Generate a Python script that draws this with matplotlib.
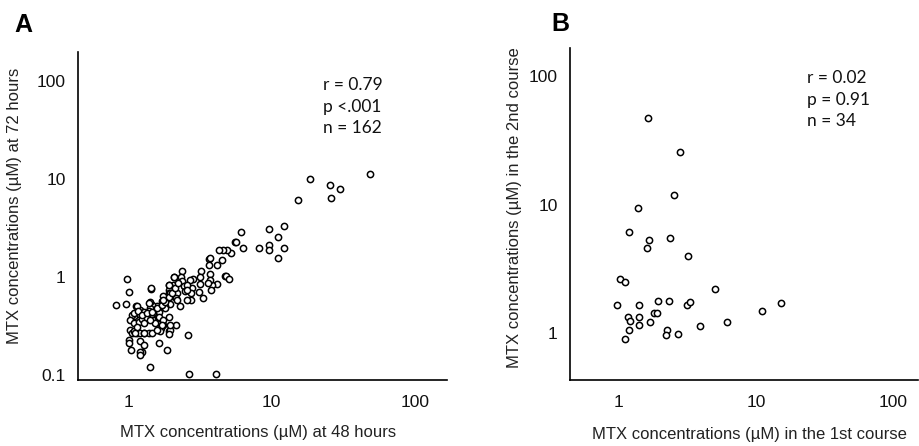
import matplotlib
matplotlib.use("Agg")
import matplotlib.pyplot as plt
from matplotlib.ticker import FixedLocator, FixedFormatter, NullLocator

# ---------------------------------------------------------------
# Panel A: MTX at 48 h vs 72 h (uM)
# ---------------------------------------------------------------
a_48h = [48, 18.5, 25.3, 29.7, 26, 15.2, 12.2, 9.5, 11.1, 6.13, 8.1, 9.5, 9.55, 12.2, 11.1,
         6.3, 5.57, 5.65, 5.22, 4.9, 4.6, 4.31, 4.5, 4.17, 3.65, 3.7, 3.66, 4.7, 4.8, 5.05,
         4.13, 3.83, 3.72, 3.7, 3.6, 3.76, 3.23, 3.14, 3.15, 3.32, 3.13, 2.82, 2.7, 2.78, 2.75,
         2.75, 2.37, 2.33, 2.37, 2.46, 2.5, 2.56, 2.58, 2.07, 2.05,
         1.91, 1.91, 1.91, 1.96, 2.01, 2.18, 2.15, 2.18, 1.86, 1.84, 1.96, 1.76, 1.72, 1.81,
         1.80, 1.67, 1.58, 1.54, 1.63, 1.50, 1.46, 1.42, 1.39, 1.35, 1.37,
         2.15, 1.93, 1.95, 1.76, 1.68, 1.66, 1.91, 2.59, 1.86, 1.63, 1.42, 2.63, 4.1, 1.43,
         1.45, 0.98, 1.02, 0.82, 0.96, 1.42, 1.40,
         1.14, 1.21, 1.28, 1.16, 1.09, 1.06, 1.03, 1.09, 1.18, 1.25, 1.35, 1.46, 1.50,
         1.03, 1.06, 1.09, 1.15, 1.21, 1.28, 1.39, 1.46,
         1.02, 1.02, 1.04, 1.21, 1.28, 1.25, 1.21, 1.21, 1.58, 1.63,
         1.15, 1.09, 1.17, 1.25, 1.35, 1.46, 1.58, 1.72, 1.81, 1.91, 2.01, 2.13, 2.24, 2.07,
         1.91, 1.76, 1.63, 1.76, 1.91, 1.96, 1.72, 1.54, 1.42, 1.28, 1.15, 1.12, 1.28, 1.58,
         2.30, 2.56]
a_72h = [11.2, 10.0, 8.55, 7.85, 6.3, 6.1, 3.31, 3.11, 2.54, 2.9, 1.96, 2.1, 1.87, 1.96, 1.54,
         1.96, 2.26, 2.28, 1.77, 1.89, 1.88, 1.86, 1.49, 1.32, 1.53, 1.55, 1.31, 1.02, 1.01, 0.96,
         0.85, 0.82, 1.07, 0.93, 0.86, 0.74, 1.14, 1.0, 0.85, 0.61, 0.70, 0.95, 0.93, 0.77, 0.68,
         0.58, 1.15, 1.0, 0.9, 0.8, 0.71, 0.83, 0.74, 1.0, 0.83,
         0.83, 0.74, 0.68, 0.68, 0.64, 0.68, 0.61, 0.58, 0.58, 0.55, 0.53, 0.64, 0.57, 0.50,
         0.48, 0.50, 0.50, 0.46, 0.44, 0.43, 0.52, 0.48, 0.45, 0.42, 0.39,
         0.32, 0.28, 0.29, 0.32, 0.30, 0.28, 0.26, 0.256, 0.18, 0.21, 0.12, 0.103, 0.103, 0.76,
         0.77, 0.96, 0.70, 0.52, 0.53, 0.55, 0.54,
         0.50, 0.46, 0.44, 0.42, 0.40, 0.41, 0.36, 0.34, 0.35, 0.37, 0.38, 0.38, 0.36,
         0.29, 0.27, 0.28, 0.27, 0.27, 0.27, 0.27, 0.27,
         0.23, 0.21, 0.18, 0.22, 0.20, 0.17, 0.17, 0.16, 0.35, 0.38,
         0.50, 0.43, 0.45, 0.41, 0.43, 0.44, 0.48, 0.52, 0.56, 0.63, 0.68, 0.77, 0.86, 1.0,
         0.83, 0.58, 0.39, 0.36, 0.39, 0.32, 0.32, 0.34, 0.36, 0.34, 0.31, 0.27, 0.27, 0.29,
         0.50, 0.58]

# ---------------------------------------------------------------
# Panel B: MTX in the 1st vs 2nd course (uM)
# ---------------------------------------------------------------
b_1st = [1.62, 2.77, 2.52, 1.38, 1.18, 1.66, 1.61, 2.35, 3.2, 1.01, 1.11, 4.99, 0.97, 1.40,
         1.93, 2.30, 3.13, 3.31, 6.13, 3.93, 1.16, 1.21, 1.40, 1.40, 1.68, 1.80, 1.90, 1.18,
         1.10, 2.24, 2.19, 2.69, 15.1, 11.1]
b_2nd = [47.5, 25.7, 11.8, 9.4, 6.1, 5.26, 4.6, 5.5, 4.0, 2.65, 2.49, 2.22, 1.66, 1.66,
         1.77, 1.77, 1.65, 1.74, 1.22, 1.13, 1.34, 1.25, 1.34, 1.15, 1.22, 1.43, 1.43, 1.06,
         0.89, 1.06, 0.97, 0.99, 1.72, 1.49]

stats_a = ["r = 0.79", "p <.001", "n = 162"]
stats_b = ["r = 0.02", "p = 0.91", "n = 34"]

fig = plt.figure(figsize=(9.2, 4.46), dpi=100)
fig.patch.set_facecolor("white")

ax_a = fig.add_axes([0.0848, 0.148, 0.401, 0.735])
ax_b = fig.add_axes([0.6196, 0.148, 0.378, 0.744])


def style_axis(ax, xlim, ylim, yticks, ylabels, xlabel, ylabel):
    ax.set_xscale("log")
    ax.set_yscale("log")
    ax.set_xlim(*xlim)
    ax.set_ylim(*ylim)
    ax.xaxis.set_major_locator(FixedLocator([1, 10, 100]))
    ax.xaxis.set_major_formatter(FixedFormatter(["1", "10", "100"]))
    ax.xaxis.set_minor_locator(NullLocator())
    ax.yaxis.set_major_locator(FixedLocator(yticks))
    ax.yaxis.set_major_formatter(FixedFormatter(ylabels))
    ax.yaxis.set_minor_locator(NullLocator())
    for side in ("top", "right"):
        ax.spines[side].set_visible(False)
    for side in ("left", "bottom"):
        ax.spines[side].set_linewidth(1.2)
        ax.spines[side].set_color("black")
    ax.tick_params(axis="both", length=0, labelsize=12.5, labelcolor="#111111")
    ax.tick_params(axis="x", pad=11)
    ax.tick_params(axis="y", pad=9)
    for lab in ax.get_xticklabels() + ax.get_yticklabels():
        lab.set_family("Liberation Sans")
    ax.set_xlabel(xlabel, fontsize=12, family="Liberation Sans", color="#222222")
    ax.set_ylabel(ylabel, fontsize=12, family="Liberation Sans", color="#222222")


style_axis(ax_a, (0.447, 166), (0.089, 195), [0.1, 1, 10, 100], ["0.1", "1", "10", "100"],
           "MTX concentrations (\u00b5M) at 48 hours", "MTX concentrations (\u00b5M) at 72 hours")
style_axis(ax_b, (0.44, 151), (0.43, 166), [1, 10, 100], ["1", "10", "100"],
           "MTX concentrations (\u00b5M) in the 1st course",
           "MTX concentrations (\u00b5M) in the 2nd course")

ax_a.xaxis.set_label_coords(0.488, -0.138)
ax_a.yaxis.set_label_coords(-0.152, 0.53)
ax_b.xaxis.set_label_coords(0.517, -0.143)
ax_b.yaxis.set_label_coords(-0.138, 0.518)

marker_kw = dict(linestyle="none", marker="o", markersize=4.5, markerfacecolor="white",
                 markeredgecolor="black", markeredgewidth=1.1, clip_on=False)
ax_a.plot(a_48h, a_72h, **marker_kw)
ax_b.plot(b_1st, b_2nd, **marker_kw)

ax_a.text(0.665, 0.925, "\n".join(stats_a), transform=ax_a.transAxes, fontsize=12.5,
          family="Lato", va="top", ha="left", linespacing=1.45, color="#111111")
ax_b.text(0.68, 0.935, "\n".join(stats_b), transform=ax_b.transAxes, fontsize=12.5,
          family="Lato", va="top", ha="left", linespacing=1.45, color="#111111")

fig.text(23.5 / 920, 1 - 25 / 446, "A", fontsize=18, fontweight="bold",
         family="Liberation Sans", ha="center", va="center")
fig.text(560 / 920, 1 - 24 / 446, "B", fontsize=18, fontweight="bold",
         family="Liberation Sans", ha="center", va="center")

fig.savefig("out.png", dpi=100, facecolor="white")
